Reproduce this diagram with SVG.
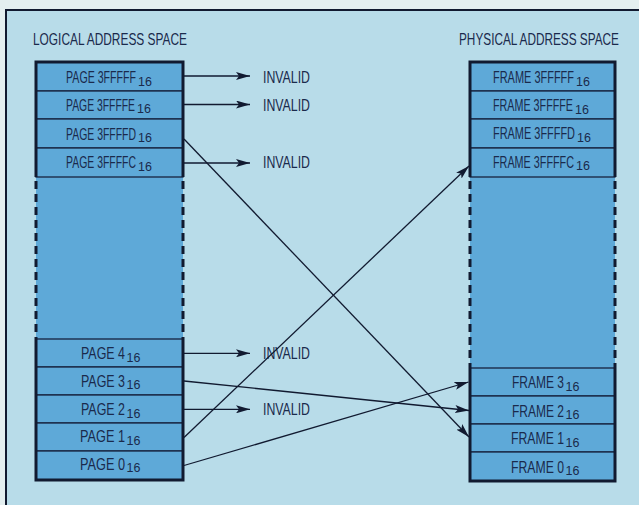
<svg xmlns="http://www.w3.org/2000/svg" width="639" height="505" viewBox="0 0 639 505">
<style>
text{font-family:"Liberation Sans",Arial,sans-serif;fill:#1a2a4c;font-size:16.5px}
.sub{font-size:12.5px}
.row{fill:#5ea9d8;stroke:#16233f;stroke-width:1.3}
.col{fill:none;stroke:#111a30;stroke-width:3}
.dash{fill:none;stroke:#111a30;stroke-width:3;stroke-dasharray:8 5}
.conn{fill:none;stroke:#111a30;stroke-width:1.3}
</style>
<defs>
<marker id="ah" viewBox="0 0 14 8" refX="14" refY="4" markerWidth="14" markerHeight="8" markerUnits="userSpaceOnUse" orient="auto">
<path d="M0,0 L14,4 L0,8 L3,4 Z" fill="#111a30"/>
</marker>
</defs>
<rect x="0" y="0" width="639" height="505" fill="#e4eff0"/>
<rect x="6" y="10" width="633" height="495" fill="#b8dce9"/>
<path d="M6,505 V10 H639" fill="none" stroke="#111a30" stroke-width="2"/>

<text id="logical-title" x="33" y="45" textLength="154" lengthAdjust="spacingAndGlyphs">LOGICAL ADDRESS SPACE</text>
<text id="physical-title" x="459" y="45" textLength="160" lengthAdjust="spacingAndGlyphs">PHYSICAL ADDRESS SPACE</text>

<!-- column backgrounds -->
<rect x="36" y="62" width="147" height="418" fill="#5ea9d8"/>
<rect x="470" y="62" width="145" height="419" fill="#5ea9d8"/>

<!-- logical pages -->
<g id="page-3FFFFF"><rect class="row" x="36" y="62" width="147" height="29"/><text x="66" y="83"><tspan textLength="70" lengthAdjust="spacingAndGlyphs">PAGE 3FFFFF</tspan><tspan class="sub" dx="2" dy="2.5">16</tspan></text></g>
<g id="page-3FFFFE"><rect class="row" x="36" y="91" width="147" height="28"/><text x="66" y="110.5"><tspan textLength="69" lengthAdjust="spacingAndGlyphs">PAGE 3FFFFE</tspan><tspan class="sub" dx="2" dy="2.5">16</tspan></text></g>
<g id="page-3FFFFD"><rect class="row" x="36" y="119" width="147" height="29"/><text x="66" y="139.5"><tspan textLength="70" lengthAdjust="spacingAndGlyphs">PAGE 3FFFFD</tspan><tspan class="sub" dx="2" dy="2.5">16</tspan></text></g>
<g id="page-3FFFFC"><rect class="row" x="36" y="148" width="147" height="29"/><text x="66" y="168.3"><tspan textLength="70" lengthAdjust="spacingAndGlyphs">PAGE 3FFFFC</tspan><tspan class="sub" dx="2" dy="2.5">16</tspan></text></g>
<g id="page-4"><rect class="row" x="36" y="339" width="147" height="28"/><text x="81" y="359"><tspan textLength="44" lengthAdjust="spacingAndGlyphs">PAGE 4</tspan><tspan class="sub" dx="1.5" dy="2.5">16</tspan></text></g>
<g id="page-3"><rect class="row" x="36" y="367" width="147" height="28"/><text x="81" y="386.7"><tspan textLength="44" lengthAdjust="spacingAndGlyphs">PAGE 3</tspan><tspan class="sub" dx="1.5" dy="2.5">16</tspan></text></g>
<g id="page-2"><rect class="row" x="36" y="395" width="147" height="28"/><text x="81" y="415"><tspan textLength="44" lengthAdjust="spacingAndGlyphs">PAGE 2</tspan><tspan class="sub" dx="1.5" dy="2.5">16</tspan></text></g>
<g id="page-1"><rect class="row" x="36" y="423" width="147" height="28"/><text x="80" y="442.3"><tspan textLength="45" lengthAdjust="spacingAndGlyphs">PAGE 1</tspan><tspan class="sub" dx="1.5" dy="2.5">16</tspan></text></g>
<g id="page-0"><rect class="row" x="36" y="451" width="147" height="29"/><text x="80" y="469.5"><tspan textLength="45" lengthAdjust="spacingAndGlyphs">PAGE 0</tspan><tspan class="sub" dx="1.5" dy="2.5">16</tspan></text></g>

<!-- physical frames -->
<g id="frame-3FFFFF"><rect class="row" x="470" y="62" width="145" height="29"/><text x="493" y="83.3"><tspan textLength="81" lengthAdjust="spacingAndGlyphs">FRAME 3FFFFF</tspan><tspan class="sub" dx="2" dy="2.5">16</tspan></text></g>
<g id="frame-3FFFFE"><rect class="row" x="470" y="91" width="145" height="28"/><text x="493" y="111"><tspan textLength="80" lengthAdjust="spacingAndGlyphs">FRAME 3FFFFE</tspan><tspan class="sub" dx="2" dy="2.5">16</tspan></text></g>
<g id="frame-3FFFFD"><rect class="row" x="470" y="119" width="145" height="29"/><text x="493" y="139.3"><tspan textLength="82" lengthAdjust="spacingAndGlyphs">FRAME 3FFFFD</tspan><tspan class="sub" dx="2" dy="2.5">16</tspan></text></g>
<g id="frame-3FFFFC"><rect class="row" x="470" y="148" width="145" height="29"/><text x="493" y="167.5"><tspan textLength="81" lengthAdjust="spacingAndGlyphs">FRAME 3FFFFC</tspan><tspan class="sub" dx="2" dy="2.5">16</tspan></text></g>
<g id="frame-3"><rect class="row" x="470" y="368" width="145" height="28"/><text x="512" y="388.3"><tspan textLength="52" lengthAdjust="spacingAndGlyphs">FRAME 3</tspan><tspan class="sub" dx="1.5" dy="2.5">16</tspan></text></g>
<g id="frame-2"><rect class="row" x="470" y="396" width="145" height="28"/><text x="512" y="416.5"><tspan textLength="52" lengthAdjust="spacingAndGlyphs">FRAME 2</tspan><tspan class="sub" dx="1.5" dy="2.5">16</tspan></text></g>
<g id="frame-1"><rect class="row" x="470" y="424" width="145" height="28"/><text x="511" y="444.3"><tspan textLength="53" lengthAdjust="spacingAndGlyphs">FRAME 1</tspan><tspan class="sub" dx="1.5" dy="2.5">16</tspan></text></g>
<g id="frame-0"><rect class="row" x="470" y="452" width="145" height="29"/><text x="511" y="472.5"><tspan textLength="53" lengthAdjust="spacingAndGlyphs">FRAME 0</tspan><tspan class="sub" dx="1.5" dy="2.5">16</tspan></text></g>

<!-- column outlines -->
<g id="column-outlines">
<path class="col" d="M36,177 V62 H183 V177"/>
<path class="col" d="M36,339 V480 H183 V339"/>
<path class="dash" d="M36,181 V339 M183,181 V339"/>
<path class="col" d="M470,177 V62 H615 V177"/>
<path class="col" d="M470,368 V481 H615 V368"/>
<path class="dash" d="M470,181 V368 M615,181 V368"/>
</g>

<!-- invalid labels -->
<g id="invalid-labels">
<text x="263" y="83.3" textLength="47" lengthAdjust="spacingAndGlyphs">INVALID</text>
<text x="263" y="110.5" textLength="47" lengthAdjust="spacingAndGlyphs">INVALID</text>
<text x="263" y="168.3" textLength="47" lengthAdjust="spacingAndGlyphs">INVALID</text>
<text x="263" y="359" textLength="47" lengthAdjust="spacingAndGlyphs">INVALID</text>
<text x="263" y="415" textLength="47" lengthAdjust="spacingAndGlyphs">INVALID</text>
</g>

<g id="connectors">
<line class="conn" x1="184" y1="76" x2="250" y2="76" marker-end="url(#ah)"/>
<line class="conn" x1="184" y1="104.5" x2="250" y2="104.5" marker-end="url(#ah)"/>
<line class="conn" x1="184" y1="163" x2="250" y2="163" marker-end="url(#ah)"/>
<line class="conn" x1="184" y1="353.3" x2="250" y2="353.3" marker-end="url(#ah)"/>
<line class="conn" x1="184" y1="409.3" x2="250" y2="409.3" marker-end="url(#ah)"/>
<line class="conn" x1="184" y1="139" x2="469" y2="437" marker-end="url(#ah)"/>
<line class="conn" x1="184" y1="437.5" x2="469" y2="166" marker-end="url(#ah)"/>
<line class="conn" x1="184" y1="381" x2="469" y2="410.5" marker-end="url(#ah)"/>
<line class="conn" x1="184" y1="465.5" x2="468.5" y2="382" marker-end="url(#ah)"/>
</g>
</svg>
